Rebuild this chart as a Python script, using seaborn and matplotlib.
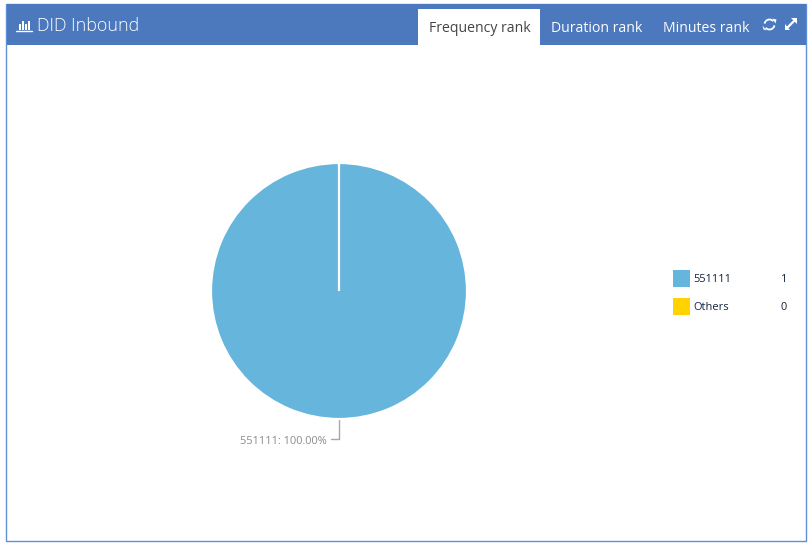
import matplotlib
matplotlib.use("Agg")
import matplotlib.pyplot as plt
from matplotlib.patches import Rectangle, Arc
import seaborn as sns

# Panel content
title = "DID Inbound"
tabs = ["Frequency rank", "Duration rank", "Minutes rank"]
categories = ["551111", "Others"]
counts = [1, 0]
shares = ["100.00%", "0.00%"]
colors = sns.color_palette(["#65B5DC", "#FFD200"])

HEADER = "#4C78BE"
BORDER = "#5F8FD8"
W, H = 811, 546

sns.set_theme(style="white")
plt.rcParams["font.family"] = ["Open Sans", "DejaVu Sans"]

fig = plt.figure(figsize=(W / 100, H / 100), dpi=100, facecolor="white")

# Overlay axes in pixel units for the panel frame, tabs and legend
ui = fig.add_axes([0, 0, 1, 1])
ui.set_xlim(0, W)
ui.set_ylim(H, 0)
ui.axis("off")

ui.add_patch(Rectangle((6, 4), 800, 537, fc="white", ec=BORDER, lw=1))
ui.add_patch(Rectangle((7, 4), 799, 41, fc=HEADER, ec="none"))
ui.add_patch(Rectangle((418, 9), 122, 36, fc="white", ec="none"))

# Bar-chart icon beside the title
for x, top in [(18.5, 24), (21.5, 21), (24.5, 23.5), (27.5, 20.5)]:
    ui.add_patch(Rectangle((x, top), 2, 30 - top, fc="white", ec="none"))
ui.plot([16, 32], [30.5, 30.5], color="white", lw=1)
ui.text(37, 26, title, color="white", fontsize=12.9, fontweight="light",
        va="center", ha="left")

tab_x = [429, 551, 663]
for i, (label, x) in enumerate(zip(tabs, tab_x)):
    ui.text(x, 28, label, fontsize=10.05, va="center", ha="left",
            color="#444444" if i == 0 else "white")

# Refresh icon
ui.add_patch(Arc((769.5, 24.5), 10, 10, theta1=190, theta2=320, color="white", lw=1.3))
ui.add_patch(Arc((769.5, 24.5), 10, 10, theta1=10, theta2=140, color="white", lw=1.3))
ui.fill([772.5, 776.5, 775.5], [18.5, 19.5, 23.5], color="white", lw=0)
ui.fill([762.5, 763.5, 766.5], [25.5, 29.5, 30.5], color="white", lw=0)

# Expand icon
ui.plot([788, 794], [27, 21], color="white", lw=1.6)
ui.fill([784.5, 784.5, 789.5], [24, 30, 30], color="white", lw=0)
ui.fill([791, 797, 797], [18, 18, 24], color="white", lw=0)

# Leader line and slice label
ui.plot([339, 339, 331], [418, 439, 439], color="#A8A8A8", lw=1)
ui.text(327, 441.5, f"{categories[0]}: {shares[0]}", fontsize=7.9, color="#8C8C8C",
        va="center", ha="right")

# Legend with swatch, name and count
legend_y = [278.5, 306.5]
for name, n, color, y in zip(categories, counts, colors, legend_y):
    ui.add_patch(Rectangle((673, y - 8.5), 17, 17, fc=color, ec="none"))
    ui.text(693.5, y + 1.5, name, fontsize=7.9, color="#14233C", va="center", ha="left")
    ui.text(787, y + 1.5, str(n), fontsize=7.9, color="#14233C", va="center", ha="right")

# Pie chart, layered above the panel background
pie_ax = fig.add_axes([211 / W, 1 - 419 / H, 256 / W, 256 / H])
pie_ax.pie(counts, colors=colors, startangle=90, counterclock=False,
           wedgeprops={"edgecolor": "white", "linewidth": 1.6})
pie_ax.set_xlim(-1, 1)
pie_ax.set_ylim(-1, 1)
pie_ax.patch.set_alpha(0)
pie_ax.set_zorder(3)

fig.savefig("out.png", dpi=100, facecolor="white")
